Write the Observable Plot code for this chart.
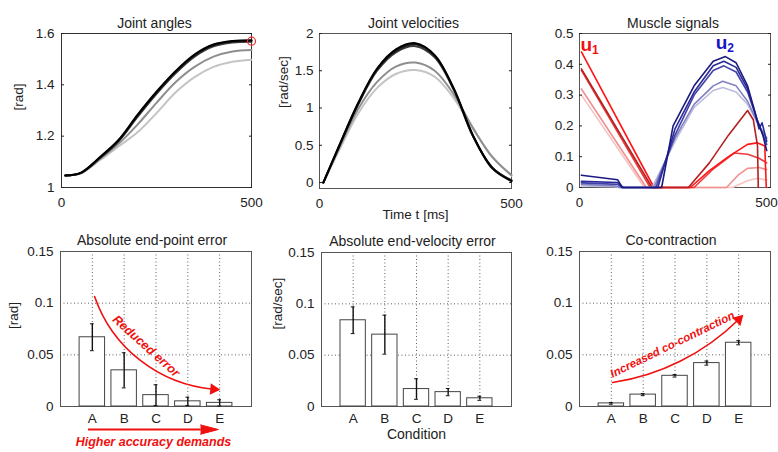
<!DOCTYPE html>
<html><head><meta charset="utf-8">
<script src="https://cdn.jsdelivr.net/npm/d3@7"></script>
<script src="https://cdn.jsdelivr.net/npm/@observablehq/plot@0.6"></script>
<style>
body{margin:0;background:#fff;}
#fig{position:relative;width:778px;height:452px;overflow:hidden;background:#fff;}
#fig svg{position:absolute;}
</style></head><body><div id="fig"></div>
<script>
// ---------- data ----------
const conditions = ["A","B","C","D","E"];
const timeGrid = [10,50,100,150,200,250,300,350,400,450,500];
const angleA = [1.047,1.055,1.105,1.16,1.215,1.29,1.37,1.43,1.47,1.49,1.498];
const angleB = [1.047,1.055,1.11,1.17,1.245,1.33,1.41,1.47,1.51,1.53,1.536];
const angleC = [1.047,1.056,1.113,1.18,1.275,1.365,1.445,1.51,1.55,1.565,1.568];
const angleD = [1.047,1.056,1.115,1.182,1.28,1.37,1.45,1.515,1.555,1.569,1.572];
const angleE = [1.047,1.057,1.117,1.185,1.283,1.373,1.453,1.518,1.557,1.571,1.574];
const targetAngle = [{t:500, v:1.57}];
const velA = [0,0.42,0.92,1.27,1.46,1.51,1.42,1.13,0.72,0.35,0.09];
const velB = [0,0.45,0.98,1.35,1.56,1.61,1.5,1.18,0.73,0.34,0.1];
const velC = [0,0.47,1.04,1.5,1.75,1.83,1.68,1.24,0.62,0.2,0.03];
const velD = [0,0.47,1.05,1.52,1.77,1.855,1.70,1.25,0.62,0.2,0.025];
const velE = [0,0.48,1.06,1.53,1.79,1.87,1.71,1.26,0.63,0.19,0.02];
// muscle signals [t, value]
const u1A = [[5,0.30],[170,0],[400,0],[440,0.022],[465,0.03],[490,0.024]];
const u1B = [[5,0.32],[175,0],[385,0],[415,0.04],[440,0.062],[470,0.065],[490,0.058]];
const u1C = [[5,0.38],[185,0],[300,0],[350,0.06],[405,0.112],[440,0.108],[470,0.095],[490,0.08]];
const u1D = [[5,0.44],[195,0],[290,0],[340,0.055],[390,0.1],[440,0.14],[465,0.145],[485,0.135],[489,0]];
const u1E = [[5,0.385],[190,0],[285,0],[340,0.08],[390,0.17],[440,0.25],[455,0.22],[466,0.135],[468,0]];
const u2A = [[5,0.005],[90,0.003],[100,0],[190,0],[250,0.15],[300,0.26],[350,0.315],[375,0.325],[410,0.31],[440,0.27],[470,0.2],[490,0.16]];
const u2B = [[5,0.01],[95,0.005],[105,0],[195,0],[250,0.16],[300,0.27],[350,0.33],[375,0.345],[410,0.33],[440,0.28],[470,0.2],[490,0.16]];
const u2C = [[5,0.015],[100,0.01],[110,0],[200,0],[250,0.17],[300,0.3],[350,0.38],[378,0.395],[410,0.375],[440,0.31],[465,0.22],[490,0.14]];
const u2D = [[5,0.02],[100,0.016],[115,0],[205,0],[250,0.19],[300,0.31],[350,0.395],[378,0.41],[410,0.39],[440,0.32],[460,0.24],[470,0.19],[478,0.21],[490,0.15]];
const u2E = [[5,0.04],[100,0.025],[112,0],[215,0],[245,0.2],[300,0.33],[350,0.41],[382,0.425],[410,0.405],[440,0.33],[465,0.22],[480,0.17],[490,0.12]];
// bar charts
const endPointError = [0.067,0.035,0.011,0.005,0.0035];
const endPointErrorSd = [0.013,0.017,0.010,0.004,0.003];
const endVelocityError = [0.084,0.070,0.017,0.014,0.008];
const endVelocityErrorSd = [0.013,0.019,0.010,0.0035,0.002];
const coContraction = [0.003,0.0115,0.0297,0.042,0.0617];
const coContractionSd = [0.0008,0.001,0.0012,0.002,0.002];
// tick labels
const timeTicks = [0,500];
const angleTicks = [1,1.2,1.4,1.6];
const velTicks = [0,0.5,1,1.5,2];
const muscleTicks = [0,0.1,0.2,0.3,0.4,0.5];
const barTicks = [0,0.05,0.1,0.15];
// annotations (data coordinates)
const reducedArrow = [{x1:1.07, y1:0.1065, x2:4.81, y2:0.0167}];
const reducedLabel = [{x:2.69, y:0.0584, text:"Reduced error"}];
const accuracyArrow = [{x1:0.88, x2:4.42, y:-0.0223}];
const accuracyHead = [{x:4.40, y:-0.0178},{x:4.96, y:-0.0223},{x:4.40, y:-0.0268}];
const accuracyLabel = [{x:2.92, y:-0.0348, text:"Higher accuracy demands"}];
const coArrow = [{x1:1.04, y1:0.0232, x2:5.0, y2:0.0842}];
const coLabel = [{x:2.92, y:0.060, text:"Increased co-contraction"}];
const muscleLabels = [{t:18, v:0.462, main:"u", sub:"1", color:"#ee1111"},{t:372, v:0.468, main:"u", sub:"2", color:"#1515c8"}];

// ---------- styling ----------
const grays = ["#c4c4c4","#8e8e8e","#3c3c3c","#1e1e1e","#000000"];
const reds = ["#f6c2c2","#f19090","#ea3c3c","#ff1515","#b52020"];
const blues = ["#bcbce0","#8282c2","#4242aa","#2b2b98","#1a1a80"];
const font = '"Liberation Sans", Arial, sans-serif';
const baseStyle = {fontFamily: font, fontSize: "13.5px", color: "#222", background: "transparent", overflow: "visible"};
const fig = document.getElementById("fig");
function place(svg, left, top){ svg.style.left = left + "px"; svg.style.top = top + "px"; fig.appendChild(svg); }
const fmt = d => String(d);

function gridSeries(arrays){
  return conditions.flatMap((c,i) => timeGrid.map((t,j) => ({cond:c, t, v:arrays[i][j]})));
}
const angleData = gridSeries([angleA,angleB,angleC,angleD,angleE]);
const velData = gridSeries([velA,velB,velC,velD,velE]);
const muscleKeys = [];
const muscleData = [];
[[u1A,u1B,u1C,u1D,u1E],[u2A,u2B,u2C,u2D,u2E]].forEach((group,g) => {
  group.forEach((arr,i) => {
    const key = "u" + (g+1) + conditions[i];
    muscleKeys.push(key);
    arr.forEach(([t,v]) => muscleData.push({key, t, v}));
  });
});

function timeAxes(ticks, pad, endShift = 0){
  return [
    Plot.axisX({ticks: timeTicks.slice(0,1), tickSize: 0, tickPadding: 10, tickFormat: fmt, label: null}),
    Plot.axisX({ticks: timeTicks.slice(1), tickSize: 0, tickPadding: 10, tickFormat: fmt, label: null, dx: endShift}),
    Plot.axisY({ticks, tickSize: 0, tickPadding: pad, tickFormat: fmt, label: null}),
    Plot.axisY({ticks, tickSize: -3, tickFormat: () => "", label: null}),
    Plot.axisY({ticks, anchor: "right", tickSize: -3, tickFormat: () => "", label: null})
  ];
}

// ---------- panel 1 ----------
place(Plot.plot({
  width: 260, height: 210, marginLeft: 61, marginRight: 9, marginTop: 33, marginBottom: 23,
  style: baseStyle,
  x: {domain: [0,500]}, y: {domain: [1,1.6]},
  color: {domain: conditions, range: grays},
  marks: [
    Plot.frame({stroke: "#333"}),
    Plot.line(angleData, {x: "t", y: "v", z: "cond", stroke: "cond", strokeWidth: 2, curve: "catmull-rom"}),
    Plot.dot(targetAngle, {x: "t", y: "v", r: 4, stroke: "#f03030", fill: "none", strokeWidth: 1.2}),
    ...timeAxes(angleTicks, 7),
    Plot.text(["Joint angles"], {text: d => d, frameAnchor: "top", dy: -15, dx: -2, fontSize: 14}),
    Plot.text(["[rad]"], {text: d => d, frameAnchor: "left", dx: -43, rotate: -90, fontSize: 13.5})
  ]
}), 0, 0);

// ---------- panel 2 ----------
place(Plot.plot({
  width: 260, height: 210, marginLeft: 59, marginRight: 9, marginTop: 33, marginBottom: 22,
  style: baseStyle,
  x: {domain: [0,500]}, y: {domain: [-0.08,2]},
  color: {domain: conditions, range: grays},
  marks: [
    Plot.frame({stroke: "#555"}),
    Plot.line(velData, {x: "t", y: "v", z: "cond", stroke: "cond", strokeWidth: 2, curve: "catmull-rom"}),
    ...timeAxes(velTicks, 6),
    Plot.text(["Joint velocities"], {text: d => d, frameAnchor: "top", dy: -15, dx: -2, fontSize: 14}),
    Plot.text(["[rad/sec]"], {text: d => d, frameAnchor: "left", dx: -36, dy: -3, rotate: -90, fontSize: 13.5}),
    Plot.text(["Time t [ms]"], {text: d => d, frameAnchor: "bottom", dy: 30, fontSize: 13.5})
  ]
}), 260, 0);

// ---------- panel 3 ----------
place(Plot.plot({
  width: 258, height: 210, marginLeft: 59, marginRight: 8, marginTop: 33, marginBottom: 23,
  style: baseStyle,
  x: {domain: [0,500]}, y: {domain: [0,0.5]},
  color: {domain: muscleKeys, range: [...reds, ...blues]},
  marks: [
    Plot.frame({stroke: "#555"}),
    Plot.line(muscleData, {x: "t", y: "v", z: "key", stroke: "key", strokeWidth: 1.6}),
    ...timeAxes(muscleTicks, 6, -4),
    Plot.text(muscleLabels, {x: "t", y: "v", text: "main", fill: "color", fontSize: 19, fontWeight: "bold"}),
    Plot.text(muscleLabels, {x: "t", y: "v", text: "sub", fill: "color", fontSize: 12, fontWeight: "bold", dx: 9, dy: 5}),
    Plot.text(["Muscle signals"], {text: d => d, frameAnchor: "top", dy: -15, dx: -2, fontSize: 14})
  ]
}), 520, 0);

// ---------- bar panels ----------
function barPanel({values, errs, title, ylabel, ylabelDx, mL, mR, mT, width, extra}){
  const data = conditions.map((c,i) => ({cond: c, pos: i+1, value: values[i], err: errs[i]}));
  const dotted = {stroke: "#444", strokeOpacity: 0.85, strokeDasharray: "1,2.5"};
  return Plot.plot({
    width, height: 242, marginLeft: mL, marginRight: mR, marginTop: mT, marginBottom: 46,
    style: baseStyle,
    x: {domain: [0,6]}, y: {domain: [0,0.15]},
    marks: [
      Plot.gridY({ticks: [0.05,0.1], ...dotted}),
      Plot.gridX({ticks: [1,2,3,4,5], ...dotted}),
      Plot.frame({stroke: "#555"}),
      Plot.rectY(data, {x1: d => d.pos - 0.4, x2: d => d.pos + 0.4, y: "value", fill: "white", stroke: "#444", strokeWidth: 1}),
      Plot.ruleX(data, {x: "pos", y1: d => d.value - d.err, y2: d => d.value + d.err, stroke: "#111", strokeWidth: 1.4}),
      Plot.ruleY(data, {y: d => d.value + d.err, x1: d => d.pos - 0.06, x2: d => d.pos + 0.06, stroke: "#111", strokeWidth: 1}),
      Plot.ruleY(data, {y: d => d.value - d.err, x1: d => d.pos - 0.06, x2: d => d.pos + 0.06, stroke: "#111", strokeWidth: 1}),
      Plot.axisX({ticks: [1,2,3,4,5], tickSize: 0, tickPadding: 7, tickFormat: i => conditions[i-1], label: null}),
      Plot.axisY({ticks: barTicks, tickSize: 0, tickPadding: 7, tickFormat: fmt, label: null}),
      Plot.text([title], {text: d => d, frameAnchor: "top", dy: -16, dx: -4, fontSize: 14}),
      ...(ylabel ? [Plot.text([ylabel], {text: d => d, frameAnchor: "left", dx: ylabelDx, rotate: -90, fontSize: 13.5})] : []),
      ...extra
    ]
  });
}
const redText = {fill: "#f01010", fontWeight: "bold", fontStyle: "italic"};

place(barPanel({
  values: endPointError, errs: endPointErrorSd, title: "Absolute end-point error", ylabel: "[rad]", ylabelDx: -47,
  mL: 60, mR: 9, mT: 41, width: 260,
  extra: [
    Plot.arrow(reducedArrow, {x1: "x1", y1: "y1", x2: "x2", y2: "y2", bend: -33, headLength: 0, stroke: "#f01010", strokeWidth: 1.6}),
    Plot.dot(reducedArrow, {x: "x2", y: "y2", symbol: "triangle", r: 4.3, rotate: 95, fill: "#f01010"}),
    Plot.text(reducedLabel, {x: "x", y: "y", text: "text", rotate: 42, fontSize: 12.5, ...redText}),
    Plot.ruleY(accuracyArrow, {y: "y", x1: "x1", x2: "x2", stroke: "#f01010", strokeWidth: 2}),
    Plot.line(accuracyHead, {x: "x", y: "y", fill: "#f01010", stroke: "#f01010", strokeWidth: 1}),
    Plot.text(accuracyLabel, {x: "x", y: "y", text: "text", fontSize: 12.5, ...redText})
  ]
}), 0, 210);

place(barPanel({
  values: endVelocityError, errs: endVelocityErrorSd, title: "Absolute end-velocity error", ylabel: "[rad/sec]", ylabelDx: -44,
  mL: 61, mR: 9, mT: 42, width: 260,
  extra: [
    Plot.text(["Condition"], {text: d => d, frameAnchor: "bottom", dy: 32, fontSize: 14})
  ]
}), 260, 210);

place(barPanel({
  values: coContraction, errs: coContractionSd, title: "Co-contraction", ylabel: null,
  mL: 59, mR: 8, mT: 41, width: 258,
  extra: [
    Plot.arrow(coArrow, {x1: "x1", y1: "y1", x2: "x2", y2: "y2", bend: -18, headLength: 0, stroke: "#f01010", strokeWidth: 1.6}),
    Plot.dot(coArrow, {x: "x2", y: "y2", symbol: "triangle", r: 4.3, rotate: 45, fill: "#f01010"}),
    Plot.text(coLabel, {x: "x", y: "y", text: "text", rotate: -26, fontSize: 11.5, ...redText})
  ]
}), 520, 210);
</script></body></html>
